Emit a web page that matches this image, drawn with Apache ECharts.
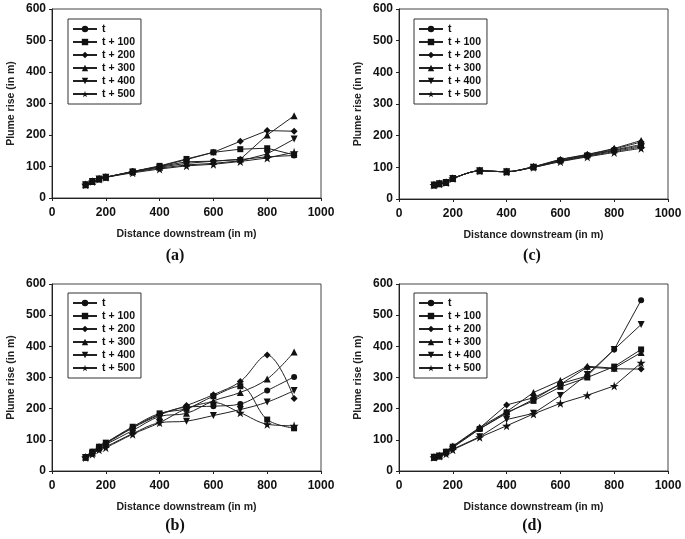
<!DOCTYPE html>
<html>
<head>
<meta charset="utf-8">
<script src="https://cdn.jsdelivr.net/npm/echarts@6/dist/echarts.min.js"></script>
<style>
html,body{margin:0;padding:0;background:#fff;}
#chart{width:685px;height:539px;}
</style>
</head>
<body>
<div id="chart"></div>
<script>
// ---- data ----
const seriesNames = ['t', 't + 100', 't + 200', 't + 300', 't + 400', 't + 500'];
const xAB = [125, 150, 175, 200, 300, 400, 500, 600, 700, 800, 900];
const xCD = [130, 150, 175, 200, 300, 400, 500, 600, 700, 800, 900];
const xTicks = [0, 200, 400, 600, 800, 1000];
const yTicks = [0, 100, 200, 300, 400, 500, 600];
const panelLabels = ['(a)', '(b)', '(c)', '(d)'];

// panel (a)
const a_t    = [42, 52, 60, 66, 84, 100, 115, 117, 122, 131, 135];
const a_t100 = [42, 52, 60, 66, 84, 102, 124, 145, 155, 158, 137];
const a_t200 = [42, 52, 60, 66, 84, 100, 122, 145, 180, 214, 212];
const a_t300 = [42, 52, 60, 66, 83, 98, 110, 117, 123, 200, 261];
const a_t400 = [42, 52, 60, 66, 82, 95, 105, 110, 118, 140, 187];
const a_t500 = [42, 52, 60, 66, 80, 92, 102, 107, 116, 127, 145];

// panel (b)
const b_t    = [45, 62, 78, 90, 140, 182, 205, 208, 215, 258, 302];
const b_t100 = [45, 62, 78, 91, 142, 185, 200, 240, 272, 165, 137];
const b_t200 = [45, 60, 76, 88, 138, 180, 210, 245, 287, 372, 233];
const b_t300 = [44, 58, 74, 85, 130, 175, 185, 225, 252, 295, 382];
const b_t400 = [43, 55, 70, 78, 120, 155, 160, 178, 197, 221, 258];
const b_t500 = [43, 54, 68, 75, 118, 155, 200, 220, 187, 150, 145];

// panel (c)
const c_t    = [44, 48, 52, 65, 89, 86, 101, 122, 138, 155, 172];
const c_t100 = [44, 48, 52, 65, 89, 86, 101, 121, 137, 153, 168];
const c_t200 = [44, 48, 52, 65, 89, 86, 102, 124, 140, 158, 180];
const c_t300 = [44, 48, 52, 65, 89, 86, 102, 125, 141, 160, 185];
const c_t400 = [44, 48, 52, 65, 89, 86, 100, 119, 135, 150, 164];
const c_t500 = [44, 48, 52, 65, 89, 86, 100, 118, 133, 147, 160];

// panel (d)
const d_t    = [44, 48, 57, 75, 135, 185, 230, 280, 305, 390, 548];
const d_t100 = [44, 48, 62, 78, 135, 188, 225, 270, 300, 335, 390];
const d_t200 = [44, 48, 60, 78, 138, 212, 235, 278, 333, 328, 327];
const d_t300 = [44, 48, 62, 80, 140, 190, 252, 290, 336, 330, 380];
const d_t400 = [44, 48, 58, 70, 110, 165, 185, 242, 310, 390, 470];
const d_t500 = [44, 48, 55, 68, 108, 145, 183, 217, 243, 273, 347];

// ---- styling / layout ----
const symbols = [
  'circle', 'rect', 'diamond', 'triangle',
  'path://M0,0 L10,0 L5,9 Z',
  'path://M50,0 L61,35 L98,35 L68,57 L79,91 L50,70 L21,91 L32,57 L2,35 L39,35 Z'
];
const symbolSizes = [6, 6, 7, 7, 7, 9];
const panels = [
  {x: xAB, data: [a_t, a_t100, a_t200, a_t300, a_t400, a_t500], grid: {left: 52, top: 9, width: 269, height: 189}, legend: {left: 68, top: 19}, label: {x: 170, y: 243}, smooth: false},
  {x: xAB, data: [b_t, b_t100, b_t200, b_t300, b_t400, b_t500], grid: {left: 52, top: 284, width: 269, height: 187}, legend: {left: 68, top: 293}, label: {x: 170, y: 513}, smooth: 0.35},
  {x: xCD, data: [c_t, c_t100, c_t200, c_t300, c_t400, c_t500], grid: {left: 399, top: 9, width: 269, height: 190}, legend: {left: 414, top: 19}, label: {x: 527, y: 243}, smooth: 0.3},
  {x: xCD, data: [d_t, d_t100, d_t200, d_t300, d_t400, d_t500], grid: {left: 399, top: 284, width: 269, height: 187}, legend: {left: 414, top: 293}, label: {x: 527, y: 513}, smooth: false}
];

const FONT = 'Liberation Sans, Arial, sans-serif';
const lineColor = '#222';

const option = {
  backgroundColor: '#fff',
  animation: false,
  grid: [], xAxis: [], yAxis: [], series: [], legend: [], title: []
};

panels.forEach((p, i) => {
  option.grid.push(Object.assign({show: true, borderColor: '#444', borderWidth: 1, backgroundColor: 'transparent'}, p.grid));
  option.xAxis.push({
    type: 'value', gridIndex: i, min: xTicks[0], max: xTicks[xTicks.length - 1], interval: xTicks[1] - xTicks[0],
    name: 'Distance downstream (in m)', nameLocation: 'middle', nameGap: 31,
    nameTextStyle: {fontFamily: FONT, fontWeight: 'bold', fontSize: 10.5, color: '#222'},
    axisLine: {show: true, lineStyle: {color: '#222', width: 1}},
    axisTick: {show: true, length: 3, lineStyle: {color: '#222'}},
    axisLabel: {fontFamily: FONT, fontWeight: 'bold', fontSize: 12, color: '#111', margin: 9, formatter: v => String(v)},
    splitLine: {show: false}
  });
  option.yAxis.push({
    type: 'value', gridIndex: i, min: yTicks[0], max: yTicks[yTicks.length - 1], interval: yTicks[1] - yTicks[0],
    name: 'Plume rise (in m)', nameLocation: 'middle', nameGap: 35, nameRotate: 90,
    nameTextStyle: {fontFamily: FONT, fontWeight: 'bold', fontSize: 10.5, color: '#222'},
    axisLine: {show: true, lineStyle: {color: '#222', width: 1}},
    axisTick: {show: true, length: 3, lineStyle: {color: '#222'}},
    axisLabel: {fontFamily: FONT, fontWeight: 'bold', fontSize: 12, color: '#111', margin: 6, formatter: v => String(v)},
    splitLine: {show: false}
  });
  p.data.forEach((vals, k) => {
    option.series.push({
      type: 'line', name: seriesNames[k], xAxisIndex: i, yAxisIndex: i,
      data: p.x.map((xv, j) => [xv, vals[j]]),
      symbol: symbols[k], symbolSize: symbolSizes[k], showSymbol: true,
      smooth: p.smooth,
      lineStyle: {color: lineColor, width: 1},
      itemStyle: {color: '#111', borderWidth: 0},
      z: 3
    });
  });
  option.legend.push({
    orient: 'vertical', left: p.legend.left, top: p.legend.top,
    data: seriesNames,
    itemWidth: 24, itemHeight: 8, itemGap: 1,
    padding: [4, 6, 4, 4],
    borderColor: '#333', borderWidth: 1, backgroundColor: '#fff',
    textStyle: {fontFamily: FONT, fontWeight: 'bold', fontSize: 10.5, lineHeight: 12, color: '#111'},
    selectedMode: false
  });
  option.title.push({
    text: panelLabels[i], left: p.label.x, top: p.label.y, textAlign: 'center',
    textStyle: {fontFamily: 'Liberation Serif, Times New Roman, serif', fontWeight: 'bold', fontSize: 16, color: '#111'}
  });
});

const chart = echarts.init(document.getElementById('chart'), null, {renderer: 'canvas'});
chart.setOption(option);
</script>
</body>
</html>
